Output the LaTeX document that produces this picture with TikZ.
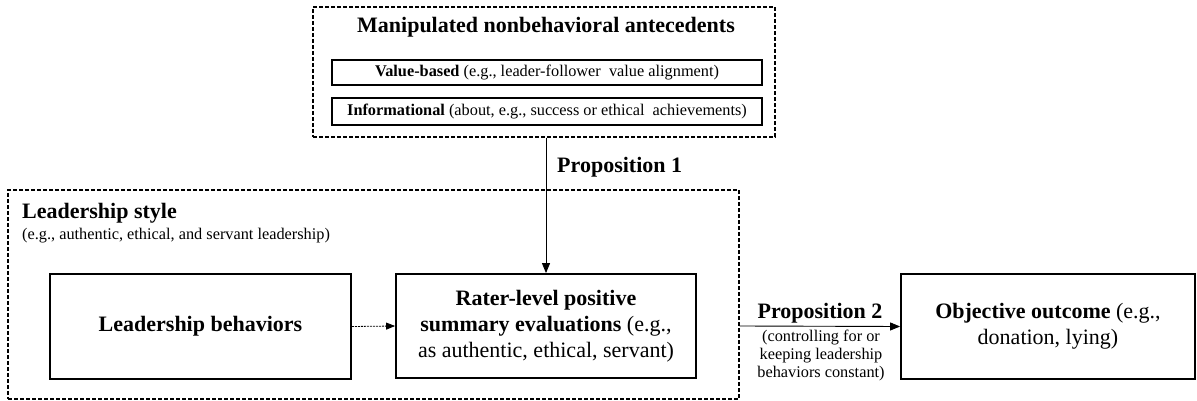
\documentclass[tikz,border=0pt]{standalone}
\usepackage{fontspec}
\setmainfont{Liberation Serif}
\usetikzlibrary{arrows.meta,positioning}
\tikzset{
  dashbox/.style={draw, line width=1.3pt, dash pattern=on 4pt off 2pt, inner sep=0pt},
  solidbox/.style={draw, line width=1.8pt, inner sep=0pt, align=center},
  thinbox/.style={draw, line width=1.4pt, inner sep=0pt, align=center},
  big/.style={font=\fontsize{22}{26}\selectfont},
  small/.style={font=\fontsize{16.3}{18}\selectfont},
  arr/.style={line width=0.9pt, -{Triangle[length=10pt,width=8pt]}},
  dotarr/.style={line width=0.8pt, dash pattern=on 2pt off 1pt, -{Triangle[length=9pt,width=7pt]}},
}
\begin{document}
\begin{tikzpicture}[x=1pt,y=-1pt]
\useasboundingbox (0,0) rectangle (1197,401);
% top dashed group
\node[dashbox, minimum width=462pt, minimum height=130pt] (manip) at (544,72) {};
\node[big, anchor=base] (mtitle) at (546,33) {\textbf{Manipulated nonbehavioral antecedents}};
\node[thinbox, small, minimum width=430pt, minimum height=25pt] (value) at (547,72.5)
  {\textbf{Value-based} (e.g., leader-follower\ \ value alignment)};
\node[thinbox, small, minimum width=430pt, minimum height=27pt] (info) at (547,111.5)
  {\textbf{Informational} (about, e.g., success or ethical\ \ achievements)};
% leadership style dashed group
\node[dashbox, minimum width=731pt, minimum height=209pt] (style) at (373.5,294.5) {};
\node[big, anchor=base west, inner sep=0pt] (stitle) at (22,218) {\textbf{Leadership style}};
\node[small, anchor=base west, inner sep=0pt] (ssub) at (22,239) {(e.g., authentic, ethical, and servant leadership)};
% boxes
\node[solidbox, big, minimum width=301pt, minimum height=105pt] (lb) at (200.5,326.5) {\textbf{Leadership behaviors}};
\node[solidbox, big, minimum width=300pt, minimum height=104pt] (rater) at (546,326)
  {\textbf{Rater-level positive}\\\textbf{summary evaluations} (e.g.,\\as authentic, ethical, servant)};
\node[solidbox, big, minimum width=294pt, minimum height=105pt] (outcome) at (1048,326.5)
  {\textbf{Objective outcome} (e.g.,\\donation, lying)};
% connectors
\draw[arr] (manip.south -| rater.north) -- (rater.north);
\node[big, anchor=base west, inner sep=0pt] (p1) at (557,172) {\textbf{Proposition 1}};
\draw[dotarr] (lb.east) -- (rater.west);
\coordinate (p2start) at (style.east |- rater.east);
\draw[arr] (p2start) -- (outcome.west);
\node[big, anchor=base, inner sep=0pt] (p2) at (820,318) {\textbf{Proposition 2}};
\node[small, align=center, anchor=north, inner sep=0pt] (p2sub) at (821,330)
  {(controlling for or\\keeping leadership\\behaviors constant)};
\end{tikzpicture}
\end{document}
